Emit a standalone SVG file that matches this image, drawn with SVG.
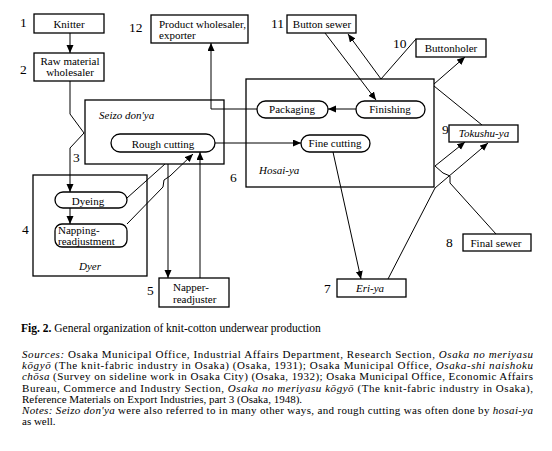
<svg xmlns="http://www.w3.org/2000/svg" width="552" height="451" viewBox="0 0 552 451">
<style>
.bx{fill:#fff;stroke:#000;stroke-width:1.3}
.ln{fill:none;stroke:#000;stroke-width:1}
text{font-family:"Liberation Serif","Times New Roman","DejaVu Serif",serif;fill:#000}
.t{font-size:11px}
.c{text-anchor:middle}
.i{font-style:italic}
.n{font-size:13.5px}
.cap{font-size:11px}
.fig{font-size:11.5px}
</style>
<defs>
<marker id="ah" markerUnits="userSpaceOnUse" markerWidth="9" markerHeight="8" refX="8" refY="3.5" orient="auto">
<path d="M0,0 L8,3.5 L0,7 z" fill="#000"/>
</marker>
</defs>
<rect width="552" height="451" fill="#fff"/>

<g id="seizo"><rect class="bx" x="85" y="100" width="139" height="64"/><text class="t i" x="99" y="119">Seizo don'ya</text></g>
<g id="hosai"><rect class="bx" x="246" y="79" width="188" height="108"/><text class="t i" x="259" y="174">Hosai-ya</text></g>
<g id="dyer"><rect class="bx" x="33" y="175" width="114" height="101"/><text class="t i c" x="90" y="270">Dyer</text></g>

<g id="connectors">
<path class="ln" d="M70,33 V53" marker-end="url(#ah)"/>
<path class="ln" d="M70,81 V114 L84,133 L70,148 V192" marker-end="url(#ah)"/>
<path class="ln" d="M70,208 V224" marker-end="url(#ah)"/>
<path class="ln" d="M127,198 L165,164"/>
<path class="ln" d="M127,224 L163,187 L164,180 L170,176 L193,154" marker-end="url(#ah)"/>
<path class="ln" d="M168,164 V278" marker-end="url(#ah)"/>
<path class="ln" d="M200,278 V152" marker-end="url(#ah)"/>
<path class="ln" d="M257,109 H211 V43" marker-end="url(#ah)"/>
<path class="ln" d="M356,109 H328" marker-end="url(#ah)"/>
<path class="ln" d="M215,143 H301" marker-end="url(#ah)"/>
<path class="ln" d="M333,152 L361,279" marker-end="url(#ah)"/>
<path class="ln" d="M325,33 L376,100" marker-end="url(#ah)"/>
<path class="ln" d="M381,79 L348,34" marker-end="url(#ah)"/>
<path class="ln" d="M381,79 L416,39"/>
<path class="ln" d="M434,84 L465,57" marker-end="url(#ah)"/>
<path class="ln" d="M434,86 L482,125"/>
<path class="ln" d="M435,166 L465,142" marker-end="url(#ah)"/>
<path class="ln" d="M496,234 L450,183 L450,176 L443,173 L435,166"/>
<path class="ln" d="M388,279 L435,188 L488,143" marker-end="url(#ah)"/>
</g>

<g id="knitter"><rect class="bx" x="34" y="14" width="70" height="19"/><text class="t c" x="69" y="28">Knitter</text><text class="n" x="20" y="27">1</text></g>
<g id="raw"><rect class="bx" x="34" y="53" width="70" height="28"/><text class="t c" x="70" y="65">Raw material</text><text class="t c" x="70" y="76">wholesaler</text><text class="n" x="20" y="74">2</text></g>
<g id="product"><rect class="bx" x="151" y="15" width="97" height="28"/><text class="t" x="159" y="28">Product wholesaler,</text><text class="t" x="159" y="39">exporter</text><text class="n" x="129" y="32">12</text></g>
<g id="rough"><rect class="bx" x="111" y="134" width="104" height="18" rx="9"/><text class="t c" x="163" y="148">Rough cutting</text></g>
<g id="label3"><text class="n" x="73" y="162">3</text></g>
<g id="dyeing"><rect class="bx" x="55" y="192" width="72" height="16" rx="8"/><text class="t c" x="88" y="205">Dyeing</text></g>
<g id="napping"><rect class="bx" x="55" y="224" width="72" height="23" rx="7"/><text class="t" x="58" y="234">Napping-</text><text class="t" x="58" y="245">readjustment</text><text class="n" x="22" y="234">4</text></g>
<g id="napper"><rect class="bx" x="159" y="278" width="70" height="29"/><text class="t" x="173" y="290.5">Napper-</text><text class="t" x="173" y="302.5">readjuster</text><text class="n" x="147" y="295">5</text></g>
<g id="label6"><text class="n" x="230" y="182">6</text></g>
<g id="packaging"><rect class="bx" x="257" y="101" width="71" height="17" rx="8.5"/><text class="t c" x="292" y="113">Packaging</text></g>
<g id="finishing"><rect class="bx" x="356" y="101" width="69" height="17" rx="8.5"/><text class="t c" x="390" y="113">Finishing</text></g>
<g id="finecut"><rect class="bx" x="301" y="135" width="69" height="17" rx="8.5"/><text class="t c" x="335" y="147">Fine cutting</text></g>
<g id="eriya"><rect class="bx" x="337" y="279" width="69" height="18"/><text class="t i c" x="370" y="292">Eri-ya</text><text class="n" x="324" y="293">7</text></g>
<g id="finalsewer"><rect class="bx" x="463" y="234" width="68" height="17"/><text class="t c" x="496" y="247">Final sewer</text><text class="n" x="446" y="247">8</text></g>
<g id="tokushu"><rect class="bx" x="449" y="125" width="69" height="17"/><text class="t i c" x="484" y="137">Tokushu-ya</text><text class="n" x="442" y="134">9</text></g>
<g id="buttonholer"><rect class="bx" x="416" y="39" width="70" height="18"/><text class="t c" x="451" y="52">Buttonholer</text><text class="n" x="393" y="48">10</text></g>
<g id="buttonsewer"><rect class="bx" x="287" y="15" width="69" height="18"/><text class="t c" x="322" y="28">Button sewer</text><text class="n" x="271" y="28">11</text></g>

<g id="caption">
<text class="fig" x="21" y="332"><tspan font-weight="bold">Fig. 2.</tspan> General organization of knit-cotton underwear production</text>
<text class="cap" x="22" y="358" textLength="511" lengthAdjust="spacing"><tspan font-style="italic">Sources:</tspan> Osaka Municipal Office, Industrial Affairs Department, Research Section, <tspan font-style="italic">Osaka no meriyasu</tspan></text>
<text class="cap" x="22" y="369.2" textLength="511" lengthAdjust="spacing"><tspan font-style="italic">kōgyō</tspan> (The knit-fabric industry in Osaka) (Osaka, 1931); Osaka Municipal Office, <tspan font-style="italic">Osaka-shi naishoku</tspan></text>
<text class="cap" x="22" y="380.4" textLength="511" lengthAdjust="spacing"><tspan font-style="italic">chōsa</tspan> (Survey on sideline work in Osaka City) (Osaka, 1932); Osaka Municipal Office, Economic Affairs</text>
<text class="cap" x="22" y="391.6" textLength="511" lengthAdjust="spacing">Bureau, Commerce and Industry Section, <tspan font-style="italic">Osaka no meriyasu kōgyō</tspan> (The knit-fabric industry in Osaka),</text>
<text class="cap" x="22" y="402.8">Reference Materials on Export Industries, part 3 (Osaka, 1948).</text>
<text class="cap" x="22" y="414" textLength="511" lengthAdjust="spacing"><tspan font-style="italic">Notes:</tspan>  <tspan font-style="italic">Seizo don'ya</tspan> were also referred to in many other ways, and rough cutting was often done by <tspan font-style="italic">hosai-ya</tspan></text>
<text class="cap" x="22" y="425.2">as well.</text>
</g>
</svg>
